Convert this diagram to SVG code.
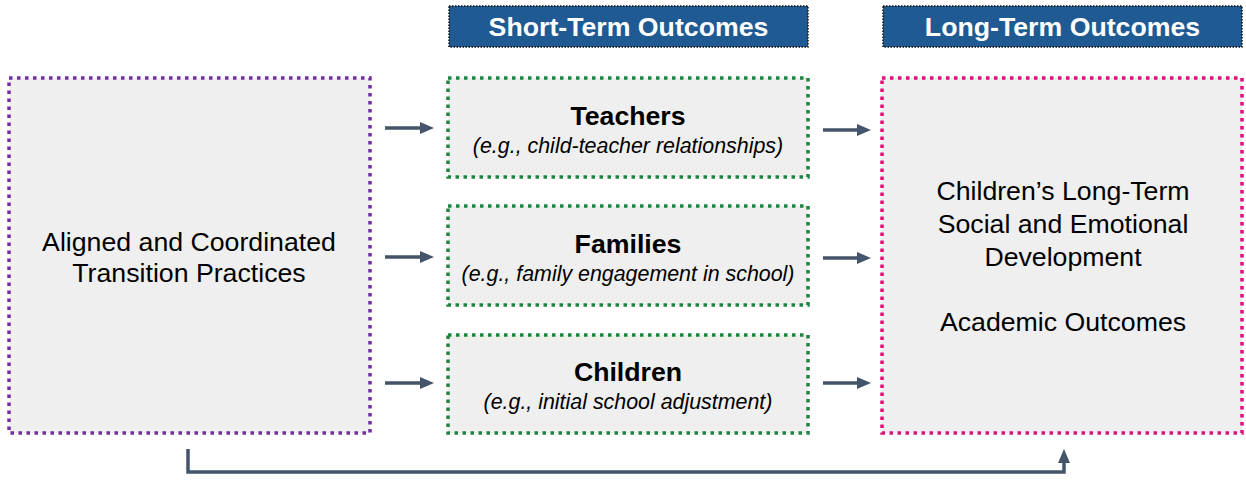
<svg xmlns="http://www.w3.org/2000/svg" width="1246" height="480" viewBox="0 0 1246 480">
<style>
.box{fill:#efefef;stroke-width:3.5;stroke-dasharray:3.5 4.5}
.hdr{fill:#1f5a92;stroke:#111;stroke-width:1.5;stroke-dasharray:1.5 1.5}
.ht{font-family:"Liberation Sans",Arial,sans-serif;font-weight:bold;font-size:26.7px;fill:#fff;text-anchor:middle}
.t{font-family:"Liberation Sans",Arial,sans-serif;font-size:26.7px;fill:#000;text-anchor:middle}
.b{font-family:"Liberation Sans",Arial,sans-serif;font-weight:bold;font-size:26.7px;fill:#000;text-anchor:middle}
.i{font-family:"Liberation Sans",Arial,sans-serif;font-style:italic;font-size:21.4px;fill:#000;text-anchor:middle}
.c{stroke:#44546a;stroke-width:3.5;fill:none}
</style>
<defs>
<marker id="ah" markerWidth="14" markerHeight="14" refX="0" refY="7" orient="auto" markerUnits="userSpaceOnUse">
<path d="M0,1 L14,7 L0,13 Z" fill="#44546a"/>
</marker>
</defs>
<g id="hdr-short">
<rect class="hdr" x="449" y="6" width="359" height="41"/>
<text class="ht" x="628.5" y="36">Short-Term Outcomes</text>
</g>
<g id="hdr-long">
<rect class="hdr" x="883" y="6" width="359" height="41"/>
<text class="ht" x="1062.5" y="36">Long-Term Outcomes</text>
</g>
<g id="practices">
<rect class="box" x="9" y="78" width="361" height="355" stroke="#7030a0"/>
<text class="t" x="189" y="251">Aligned and Coordinated</text>
<text class="t" x="189" y="282">Transition Practices</text>
</g>
<g id="teachers">
<rect class="box" x="448" y="78" width="360" height="99" stroke="#1e8540"/>
<text class="b" x="628" y="125">Teachers</text>
<text class="i" x="628" y="153">(e.g., child-teacher relationships)</text>
</g>
<g id="families">
<rect class="box" x="448" y="206" width="360" height="99" stroke="#1e8540"/>
<text class="b" x="628" y="253">Families</text>
<text class="i" x="628" y="281">(e.g., family engagement in school)</text>
</g>
<g id="children">
<rect class="box" x="448" y="335" width="360" height="98" stroke="#1e8540"/>
<text class="b" x="628" y="381">Children</text>
<text class="i" x="628" y="409">(e.g., initial school adjustment)</text>
</g>
<g id="long-term">
<rect class="box" x="882" y="78" width="360" height="355" stroke="#e0107a"/>
<text class="t" x="1063" y="200">Children’s Long-Term</text>
<text class="t" x="1063" y="233">Social and Emotional</text>
<text class="t" x="1063" y="266">Development</text>
<text class="t" x="1063" y="331">Academic Outcomes</text>
</g>
<g id="connectors">
<line class="c" x1="385" y1="128" x2="420" y2="128" marker-end="url(#ah)"/>
<line class="c" x1="385" y1="257" x2="420" y2="257" marker-end="url(#ah)"/>
<line class="c" x1="385" y1="383" x2="420" y2="383" marker-end="url(#ah)"/>
<line class="c" x1="823" y1="130" x2="857" y2="130" marker-end="url(#ah)"/>
<line class="c" x1="823" y1="258" x2="857" y2="258" marker-end="url(#ah)"/>
<line class="c" x1="823" y1="383" x2="857" y2="383" marker-end="url(#ah)"/>
<path class="c" d="M188,449 V472 H1064 V463" marker-end="url(#ah)"/>
</g>
</svg>
